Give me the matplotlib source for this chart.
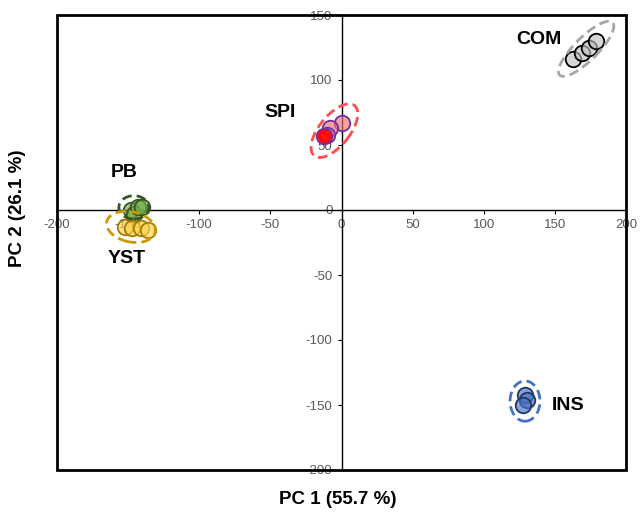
import matplotlib
matplotlib.use("Agg")
import matplotlib.pyplot as plt
from matplotlib.patches import Ellipse, Rectangle
from matplotlib.colors import to_rgba
import numpy as np

plt.rcParams['font.family'] = ['Liberation Sans', 'DejaVu Sans']
plt.rcParams['axes.unicode_minus'] = False

# ---- data (PC1, PC2 scores) ----
com_x = [163, 169, 174, 179]
com_y = [116, 121, 125, 130]
spi_x = [0, -8, -10]
spi_y = [67, 63, 58]
spi_red_x = [-12]
spi_red_y = [57]
pb_x = [-148, -146, -143, -140]
pb_y = [0, -3, 2, 2]
yst_x = [-152, -147, -141, -136]
yst_y = [-13, -14, -14, -15]
ins_x = [129, 130.5, 127.6]
ins_y = [-142, -146, -150]

x_ticks = [-200, -150, -100, -50, 0, 50, 100, 150, 200]
y_ticks = [-200, -150, -100, -50, 0, 50, 100, 150]
x_label = "PC 1 (55.7 %)"
y_label = "PC 2 (26.1 %)"

fig = plt.figure(figsize=(6.42, 5.14), dpi=100)
ax = fig.add_axes([57/642, 1-470/514, (626-57)/642, (470-15)/514])
ax.set_xlim(-200, 200)
ax.set_ylim(-200, 150)

# center axes
for s in ['top', 'right']:
    ax.spines[s].set_visible(False)
ax.spines['left'].set_position(('data', 0))
ax.spines['bottom'].set_position(('data', 0))
ax.spines['left'].set_linewidth(1.0)
ax.spines['bottom'].set_linewidth(1.0)
ax.add_patch(Rectangle((0, 0), 1, 1, transform=ax.transAxes, fill=False,
                       lw=2.0, ec='black', clip_on=False, zorder=5))
ax.set_xticks(x_ticks)
ax.set_yticks(y_ticks)
ax.tick_params(direction='out', length=3, width=0.8, labelsize=9.5,
               colors='black')
for lab in ax.get_xticklabels() + ax.get_yticklabels():
    lab.set_color('#595959')

ms = 125
def pts(x, y, fc, ec, alpha=0.65, z=3):
    ax.scatter(x, y, s=ms, facecolor=to_rgba(fc, alpha), edgecolor=ec,
               linewidth=1.3, zorder=z)

def ell(cx, cy, w, h, ang, color):
    e = Ellipse((cx, cy), w, h, angle=ang, fill=False, ec=color, lw=2.0,
                ls=(0, (3.5, 1.8)), zorder=4)
    ax.add_patch(e)

# COM
pts(com_x, com_y, '#c0c0c0', 'black')
ell(172, 124, 55, 17, 48, '#a6a6a6')
# SPI
pts(spi_x, spi_y, '#f07070', '#7030a0')
pts(spi_red_x, spi_red_y, '#ff0000', '#7030a0', alpha=0.9)
ell(-5, 61, 48, 22, 55, '#ff4d4d')
# PB
pts(pb_x, pb_y, '#70ad47', '#385723')
ell(-146, 2, 21, 18, 0, '#375623')
# YST
pts(yst_x, yst_y, '#ffd34d', '#a67c00')
ell(-148, -13, 35, 23, -15, '#c99a06')
# INS
pts(ins_x, ins_y, '#4a6fc0', '#1f3864')
ell(129, -147, 21, 31, 0, '#4472c4')

lab_kw = dict(fontsize=14, fontweight='bold', ha='center', va='center', zorder=6)
ax.text(139, 131, 'COM', **lab_kw)
ax.text(-43, 75, 'SPI', **lab_kw)
ax.text(-153, 29, 'PB', **lab_kw)
ax.text(-151, -37, 'YST', **lab_kw)
ax.text(159, -150, 'INS', **lab_kw)

fig.text(338/642, 1-500/514, x_label, fontsize=13.5, fontweight='bold',
         ha='center', va='center')
fig.text(18/642, 1-208/514, y_label, fontsize=13.5, fontweight='bold',
         ha='center', va='center', rotation=90)

fig.savefig('out.png', dpi=100)
